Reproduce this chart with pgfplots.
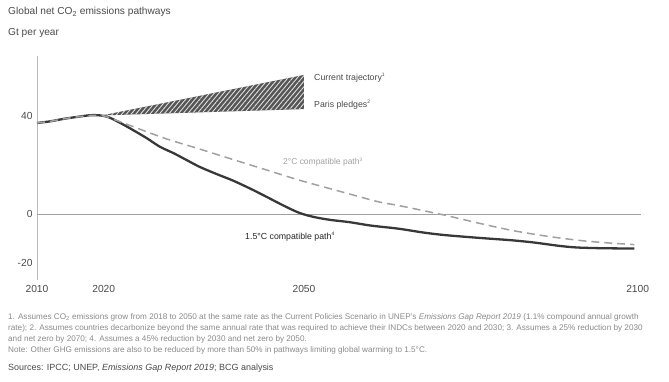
\documentclass[border=0pt]{standalone}
\usepackage{pgfplots}
\pgfplotsset{compat=1.18}
\usepackage{fontspec}
\setmainfont{Liberation Sans}
\usetikzlibrary{patterns.meta}
\definecolor{darkline}{HTML}{383838}
\definecolor{dashgrey}{HTML}{A0A0A0}
\definecolor{bandgrey}{HTML}{555555}
\definecolor{notegrey}{HTML}{8A8A8A}
\definecolor{textgrey}{HTML}{4A4A4A}
\newcommand\sups[1]{\textsuperscript{\fontsize{5}{5}\selectfont #1}}
\begin{document}
\begin{tikzpicture}
\useasboundingbox (0bp,0bp) rectangle (669bp,382bp);
\begin{axis}[
  at={(37bp,102bp)}, anchor=south west,
  scale only axis, width=604bp, height=224bp,
  xmin=2010, xmax=2100.5, ymin=-27, ymax=64.75,
  axis lines=left, axis line style={-},
  x axis line style={draw=none},
  y axis line style={draw=gray!55, line width=0.6pt},
  major tick length=0pt,
  xtick={2010,2020,2050,2100}, ytick={-20,0,40},
  xticklabel style={font=\fontsize{10.3}{12}\selectfont, text=textgrey, yshift=-2bp},
  yticklabel style={font=\fontsize{10.3}{12}\selectfont, text=textgrey, xshift=-1bp},
  /pgf/number format/assume math mode=true,
  /pgf/number format/1000 sep={},
  clip=false,
]
% zero line
\addplot[gray!75, line width=0.7pt] coordinates {(2010,0) (2100.5,0)};
% band
\addplot[fill=bandgrey, draw=none] coordinates {(2019.7,40.4) (2050,57) (2050,43) (2019.7,40.4)};
\addplot[pattern={Lines[angle=50,distance=3.6pt,line width=0.9pt]}, pattern color=white!75!gray, draw=none] coordinates {(2019.7,40.4) (2050,57) (2050,43) (2019.7,40.4)};
% 1.5C path (including history)
\addplot[darkline, line width=2.3pt, smooth, tension=0.5] coordinates {
(2010,37.3) (2012,38.0) (2014,39.0) (2016,39.8) (2018,40.5) (2019.5,40.4) (2020.8,39.6)
(2022.5,37.3) (2024.4,34.4) (2026.5,31.0) (2028.4,27.6) (2030.5,24.9) (2032.3,22.3)
(2034.4,19.3) (2037,16.3) (2039.3,13.8) (2041.9,10.5) (2044.3,7.2) (2047,3.4) (2049.3,0.5)
(2051.5,-1.2) (2054,-2.4) (2056.8,-3.3) (2060,-4.7) (2064.2,-6.0) (2068,-7.6) (2071.1,-8.6)
(2076,-9.7) (2081,-10.7) (2084,-11.5) (2086,-12.2) (2088.5,-13.1) (2091,-13.7) (2095,-14.0) (2099.5,-14.1)};
% 2C path
\addplot[dashgrey, line width=1.5pt, dash pattern=on 8bp off 5bp, smooth, tension=0.5] coordinates {
(2010,37.3) (2012,38.0) (2014,39.0) (2016,39.8) (2018,40.4) (2020,40.2) (2022,38.3)
(2025,35.2) (2029.4,30.8) (2034.3,26.7) (2039.3,22.4) (2044,18.4) (2049.3,13.9) (2055,9.6)
(2061.2,5.0) (2064.2,3.5) (2071,-0.4) (2076,-3.6) (2081,-6.6) (2086,-8.9) (2091,-10.7) (2095,-11.7) (2099.5,-12.5)};
\end{axis}
% chart labels
\node[anchor=west, font=\fontsize{8.8}{10}\selectfont, text=textgrey, inner sep=0] at (314bp,304bp) {Current trajectory\sups{1}};
\node[anchor=west, font=\fontsize{8.8}{10}\selectfont, text=textgrey, inner sep=0] at (314bp,277bp) {Paris pledges\sups{2}};
\node[anchor=west, font=\fontsize{8.5}{10}\selectfont, text=dashgrey, inner sep=0] at (283bp,220bp) {2°C compatible path\sups{3}};
\node[anchor=west, font=\fontsize{8.8}{10}\selectfont, text=black!85, inner sep=0] at (245bp,145bp) {1.5°C compatible path\sups{4}};
% title
\node[anchor=west, font=\fontsize{10.2}{12}\selectfont, text=textgrey, inner sep=0] at (8bp,370bp) {Global net CO\textsubscript{2} emissions pathways};
\node[anchor=west, font=\fontsize{10.2}{12}\selectfont, text=textgrey, inner sep=0] at (8bp,349bp) {Gt per year};
% footnotes
\node[anchor=north west, align=left, font=\fontsize{8.2}{11.2}\selectfont, text=notegrey, inner sep=0] at (8bp,69bp) {%
1. Assumes CO\textsubscript{2} emissions grow from 2018 to 2050 at the same rate as the Current Policies Scenario in UNEP's \textit{Emissions Gap Report 2019} (1.1\% compound annual growth\\
rate); 2. Assumes countries decarbonize beyond the same annual rate that was required to achieve their INDCs between 2020 and 2030; 3. Assumes a 25\% reduction by 2030\\
and net zero by 2070; 4. Assumes a 45\% reduction by 2030 and net zero by 2050.\\
Note: Other GHG emissions are also to be reduced by more than 50\% in pathways limiting global warming to 1.5°C.};
\node[anchor=west, font=\fontsize{9}{10}\selectfont, text=textgrey, inner sep=0] at (8bp,14bp) {Sources: IPCC; UNEP, \textit{Emissions Gap Report 2019}; BCG analysis};
\end{tikzpicture}
\end{document}
